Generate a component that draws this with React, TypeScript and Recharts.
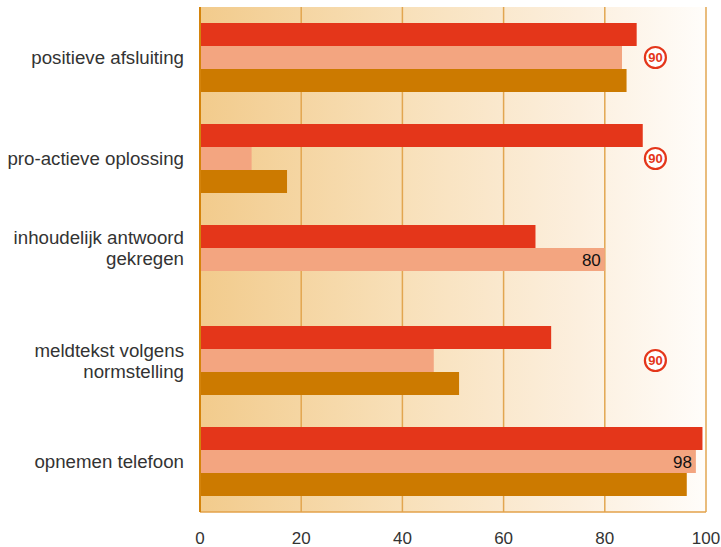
import { ComposedChart, Bar, XAxis, YAxis, CartesianGrid, LabelList, ReferenceDot } from "recharts";

// Scores per onderdeel, three measurements each
const categories = [
    "positieve afsluiting",
    "pro-actieve oplossing",
    "inhoudelijk antwoord\ngekregen",
    "meldtekst volgens\nnormstelling",
    "opnemen telefoon",
];
const firstValues = [86.3, 87.5, 66.3, 69.4, 99.3];
const secondValues = [83.4, 10.2, 80, 46.2, 98];
const thirdValues: (number | null)[] = [84.3, 17.2, null, 51.2, 96.2];
// second series values that are printed inside the bar
const secondShown = [false, false, true, false, true];
// norm marker per category
const norms: (number | null)[] = [90, 90, null, 90, null];
const xTicks = [0, 20, 40, 60, 80, 100];

const RED = "#e4361a";
const SALMON = "#f3a580";
const ORANGE = "#cc7a00";
const FONT = "'Liberation Sans', Arial, sans-serif";
const BAR = 23;

const data = categories.map((name, i) => ({
    name,
    first: firstValues[i],
    second: secondValues[i],
    third: thirdValues[i],
    shown: secondShown[i] ? secondValues[i] : null,
}));

const CategoryTick = (props: any) => {
    const { x, y, payload } = props;
    const lines = String(payload.value).split("\n");
    const idx = categories.indexOf(payload.value);
    // centre the label on the bars that are actually present
    const shift = thirdValues[idx] == null ? -BAR / 2 : 0;
    const lh = 21;
    const start = y + shift - ((lines.length - 1) * lh) / 2;
    return (
        <text x={x} y={start} textAnchor="end" fontFamily={FONT} fontSize={18.7} fill="#333">
            {lines.map((l, i) => (
                <tspan key={i} x={x} dy={i === 0 ? "0.35em" : lh}>
                    {l}
                </tspan>
            ))}
        </text>
    );
};

const ValueLabel = (props: any) => {
    const { x, y, width, height, value } = props;
    if (value == null) return null;
    return (
        <text x={x + width - 4} y={y + height / 2} dy="0.36em" textAnchor="end" fontFamily={FONT} fontSize={17} fill="#111">
            {value}
        </text>
    );
};

const NormMark = (value: number) => (p: any) => (
    <g>
        <circle cx={p.cx} cy={p.cy} r={10.5} fill="#fff" stroke={RED} strokeWidth={2.2} />
        <text x={p.cx} y={p.cy} dy="0.36em" textAnchor="middle" fontFamily={FONT} fontSize={13} fontWeight="bold" fill={RED}>
            {value}
        </text>
    </g>
);

export default function App() {
    return (
        <div style={{ position: "absolute", left: 0, top: 0, background: "#fff" }}>
            <ComposedChart
                width={721}
                height={547}
                data={data}
                layout="vertical"
                margin={{ top: 7, right: 15, bottom: 0, left: 0 }}
                barSize={BAR}
                barGap={0}
            >
                <defs>
                    <linearGradient id="plotBg" x1="0" y1="0" x2="1" y2="0">
                        <stop offset="0%" stopColor="#f2cb8c" />
                        <stop offset="40%" stopColor="#f8e0b9" />
                        <stop offset="75%" stopColor="#fcefde" />
                        <stop offset="100%" stopColor="#fffdfa" />
                    </linearGradient>
                </defs>
                <CartesianGrid horizontal={false} fill="url(#plotBg)" stroke="#e2a650" strokeWidth={1.5} />
                <XAxis
                    type="number"
                    domain={[0, 100]}
                    ticks={xTicks}
                    height={35}
                    axisLine={{ stroke: "#e3a24a", strokeWidth: 1.5 }}
                    tickLine={false}
                    tickMargin={14}
                    tick={{ fill: "#333", fontSize: 17, fontFamily: FONT }}
                    interval={0}
                />
                <XAxis
                    xAxisId="top"
                    orientation="top"
                    type="number"
                    domain={[0, 100]}
                    height={0}
                    tick={false}
                    tickLine={false}
                    axisLine={{ stroke: "#d4840c", strokeWidth: 2 }}
                />
                <YAxis
                    type="category"
                    dataKey="name"
                    width={200}
                    axisLine={{ stroke: "#d4840c", strokeWidth: 2 }}
                    tickLine={false}
                    tickMargin={10}
                    tick={<CategoryTick />}
                    interval={0}
                />
                <Bar dataKey="first" fill={RED} isAnimationActive={false} />
                <Bar dataKey="second" fill={SALMON} isAnimationActive={false}>
                    <LabelList dataKey="shown" content={<ValueLabel />} />
                </Bar>
                <Bar dataKey="third" fill={ORANGE} isAnimationActive={false} />
                {categories.map((c, i) =>
                    norms[i] == null ? null : (
                        <ReferenceDot key={c} x={norms[i] as number} y={c} r={10.5} shape={NormMark(norms[i] as number)} />
                    )
                )}
            </ComposedChart>
        </div>
    );
}
